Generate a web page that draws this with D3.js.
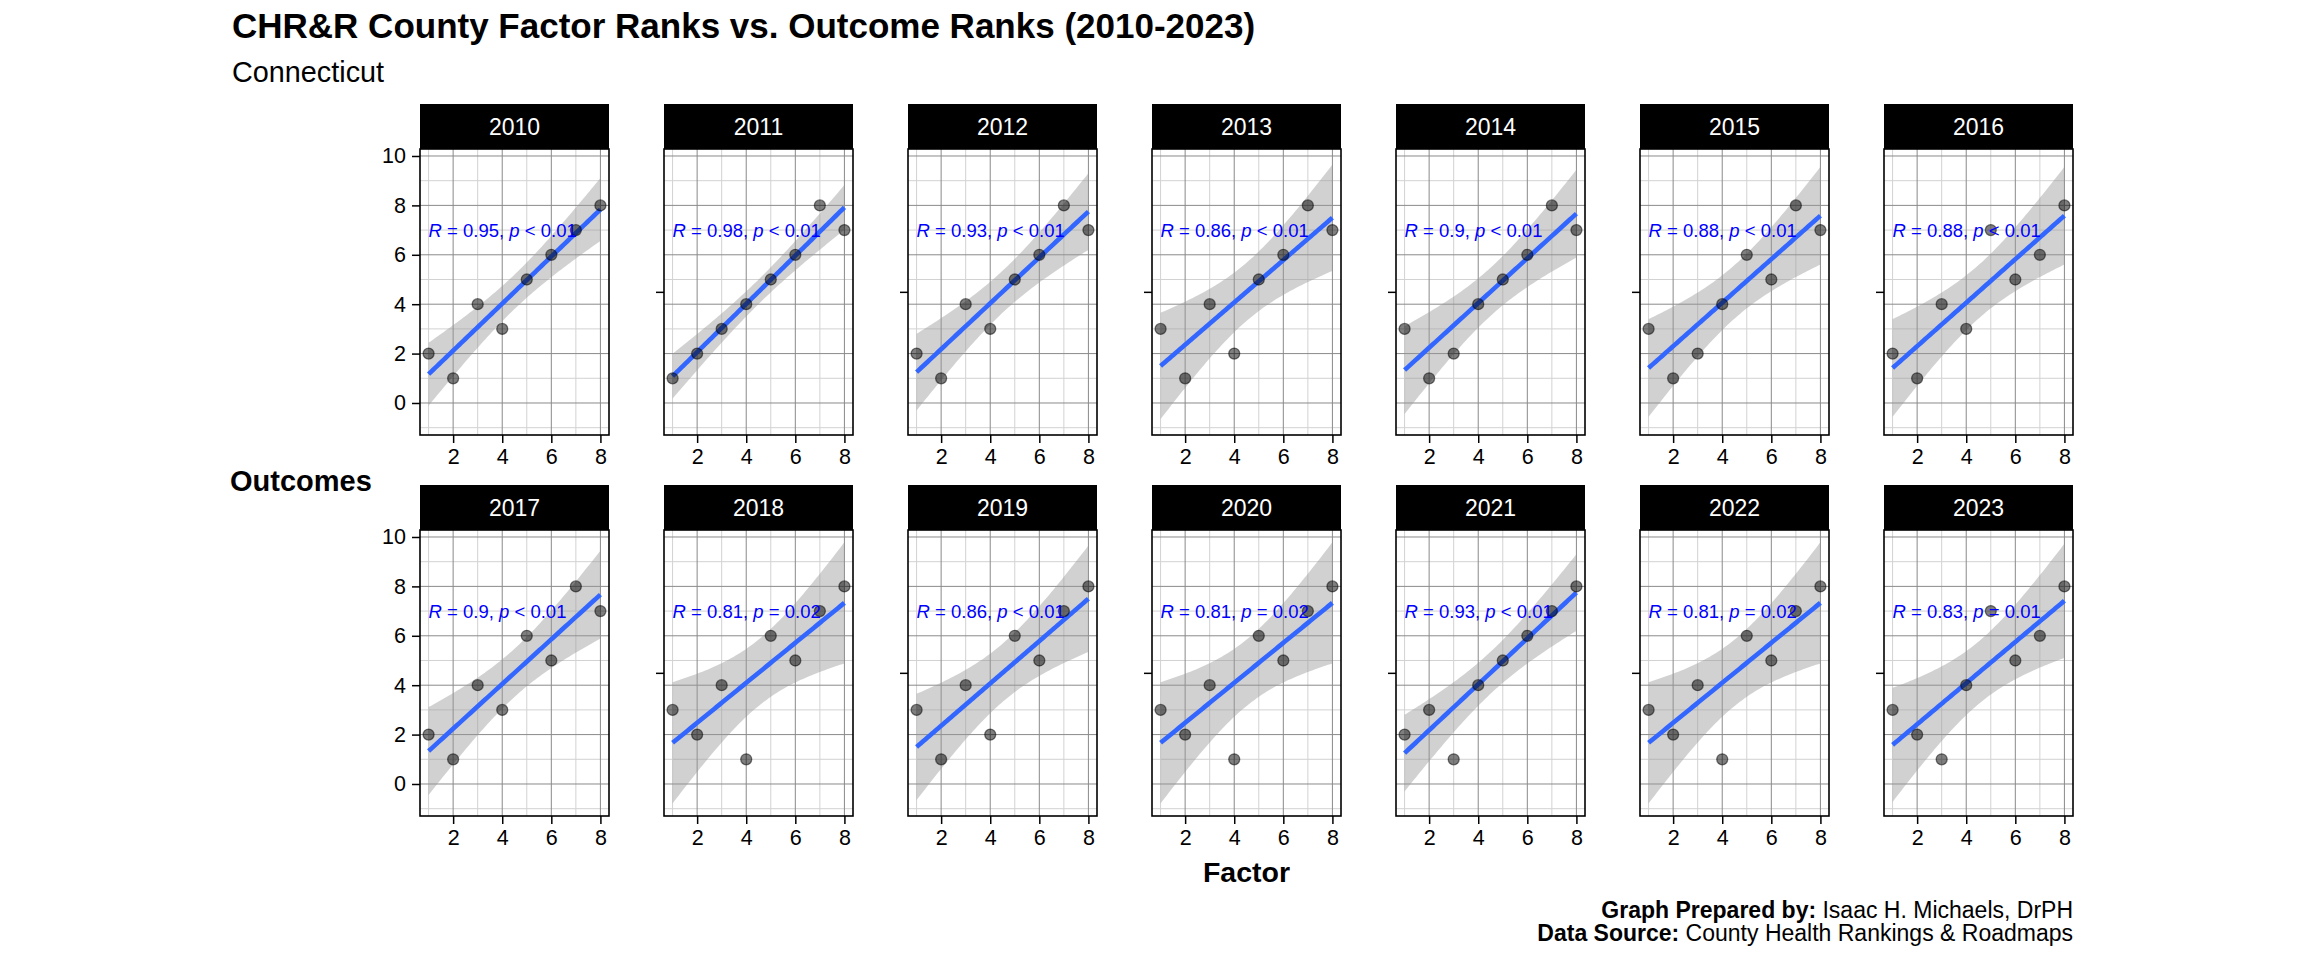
<!DOCTYPE html>
<html>
<head>
<meta charset="utf-8">
<script src="https://cdnjs.cloudflare.com/ajax/libs/d3/7.8.5/d3.min.js"></script>
<style>
  html, body { margin: 0; padding: 0; background: #fff; }
  svg { display: block; font-family: "Liberation Sans", Arial, sans-serif; }
</style>
</head>
<body>
<svg id="chart" width="2304" height="960"></svg>
<script>
(function() {

  'use strict';

  // ---- data ----
  var years = [2010, 2011, 2012, 2013, 2014, 2015, 2016,
               2017, 2018, 2019, 2020, 2021, 2022, 2023];

  var factorRanks = [1, 2, 3, 4, 5, 6, 7, 8];

  var outcomeRanks = [
    [2, 1, 4, 3, 5, 6, 7, 8], // 2010
    [1, 2, 3, 4, 5, 6, 8, 7], // 2011
    [2, 1, 4, 3, 5, 6, 8, 7], // 2012
    [3, 1, 4, 2, 5, 6, 8, 7], // 2013
    [3, 1, 2, 4, 5, 6, 8, 7], // 2014
    [3, 1, 2, 4, 6, 5, 8, 7], // 2015
    [2, 1, 4, 3, 7, 5, 6, 8], // 2016
    [2, 1, 4, 3, 6, 5, 8, 7], // 2017
    [3, 2, 4, 1, 6, 5, 7, 8], // 2018
    [3, 1, 4, 2, 6, 5, 7, 8], // 2019
    [3, 2, 4, 1, 6, 5, 7, 8], // 2020
    [2, 3, 1, 4, 5, 6, 7, 8], // 2021
    [3, 2, 4, 1, 6, 5, 7, 8], // 2022
    [3, 2, 1, 4, 7, 5, 6, 8]  // 2023
  ];

  var rLabels = ['0.95', '0.98', '0.93', '0.86', '0.9', '0.88', '0.88',
                 '0.9', '0.81', '0.86', '0.81', '0.93', '0.81', '0.83'];

  var pLabels = ['< 0.01', '< 0.01', '< 0.01', '< 0.01', '< 0.01', '< 0.01', '< 0.01',
                 '< 0.01', '= 0.02', '< 0.01', '= 0.02', '< 0.01', '= 0.02', '= 0.01'];

  var xTicks = [2, 4, 6, 8];
  var xMinor = [1, 3, 5, 7];
  var yTicks = [0, 2, 4, 6, 8, 10];
  var yMinor = [-1, 1, 3, 5, 7, 9];
  var innerYTicks = [4.5]; // lone tick left of the inner columns
  var labelPos = { x: 1, y: 7 };

  // ---- layout ----
  var FONT = '"Liberation Sans", Arial, sans-serif';
  var COLS = 7;
  var PANEL_LEFT = 420;
  var PANEL_STEP = 244;
  var PANEL_W = 189;
  var STRIP_TOP = 104;
  var STRIP_H = 45;
  var ROW_STEP = 381;
  var PLOT_H = 286;
  var T_CRIT = 2.446912; // t(0.975, df = 6)

  var svg = d3.select('#chart');

  var x = d3.scaleLinear().domain([0.65, 8.35]).range([0, PANEL_W]);
  var y = d3.scaleLinear().domain([-1.296, 10.283]).range([PLOT_H, 0]);

  // lm fit with 95% confidence band, like geom_smooth(method = 'lm')
  var fit = function(xs, ys) {
    var n = xs.length;
    var mx = d3.mean(xs), my = d3.mean(ys);
    var sxx = d3.sum(xs, function(v) { return (v - mx) * (v - mx); });
    var sxy = d3.sum(xs, function(v, i) { return (v - mx) * (ys[i] - my); });
    var slope = sxy / sxx;
    var icpt = my - slope * mx;
    var sse = d3.sum(xs, function(v, i) {
      var e = ys[i] - (icpt + slope * v);
      return e * e;
    });
    var s = Math.sqrt(sse / (n - 2));
    var lo = d3.min(xs), hi = d3.max(xs);
    var grid = d3.range(80).map(function(k) { return lo + (hi - lo) * k / 79; });
    return grid.map(function(gx) {
      var fy = icpt + slope * gx;
      var se = s * Math.sqrt(1 / n + (gx - mx) * (gx - mx) / sxx);
      return { x: gx, y: fy, lo: fy - T_CRIT * se, hi: fy + T_CRIT * se };
    });
  };

  var area = d3.area()
    .x(function(d) { return x(d.x); })
    .y0(function(d) { return y(d.lo); })
    .y1(function(d) { return y(d.hi); });

  var line = d3.line()
    .x(function(d) { return x(d.x); })
    .y(function(d) { return y(d.y); });

  svg.append('defs').append('clipPath')
    .attr('id', 'panel-clip')
    .append('rect')
    .attr('width', PANEL_W)
    .attr('height', PLOT_H);

  years.forEach(function(year, idx) {
    var col = idx % COLS;
    var row = Math.floor(idx / COLS);
    var left = PANEL_LEFT + col * PANEL_STEP;
    var stripTop = STRIP_TOP + row * ROW_STEP;
    var plotTop = stripTop + STRIP_H;
    var ys = outcomeRanks[idx];

    // strip
    svg.append('rect')
      .attr('x', left)
      .attr('y', stripTop)
      .attr('width', PANEL_W)
      .attr('height', STRIP_H)
      .attr('fill', '#000');

    svg.append('text')
      .attr('x', left + PANEL_W / 2)
      .attr('y', stripTop + 31)
      .attr('text-anchor', 'middle')
      .attr('fill', '#fff')
      .style('font-size', '23px')
      .text(year);

    var g = svg.append('g')
      .attr('transform', 'translate(' + left + ',' + plotTop + ')');

    var grid = g.append('g').attr('clip-path', 'url(#panel-clip)');

    grid.selectAll('line.minor-x')
      .data(xMinor).enter().append('line')
      .attr('x1', x).attr('x2', x)
      .attr('y1', 0).attr('y2', PLOT_H)
      .attr('stroke', '#d2d2d2').attr('stroke-width', 1);

    grid.selectAll('line.minor-y')
      .data(yMinor).enter().append('line')
      .attr('x1', 0).attr('x2', PANEL_W)
      .attr('y1', y).attr('y2', y)
      .attr('stroke', '#d2d2d2').attr('stroke-width', 1);

    grid.selectAll('line.major-x')
      .data(xTicks).enter().append('line')
      .attr('x1', x).attr('x2', x)
      .attr('y1', 0).attr('y2', PLOT_H)
      .attr('stroke', '#8a8a8a').attr('stroke-width', 1);

    grid.selectAll('line.major-y')
      .data(yTicks).enter().append('line')
      .attr('x1', 0).attr('x2', PANEL_W)
      .attr('y1', y).attr('y2', y)
      .attr('stroke', '#8a8a8a').attr('stroke-width', 1);

    var band = fit(factorRanks, ys);
    var layer = g.append('g').attr('clip-path', 'url(#panel-clip)');

    layer.append('path')
      .datum(band)
      .attr('d', area)
      .attr('fill', '#999999')
      .attr('fill-opacity', 0.45);

    layer.append('path')
      .datum(band)
      .attr('d', line)
      .attr('fill', 'none')
      .attr('stroke', '#3366FF')
      .attr('stroke-width', 4.6);

    layer.selectAll('circle')
      .data(factorRanks).enter().append('circle')
      .attr('cx', function(d) { return x(d); })
      .attr('cy', function(d, i) { return y(ys[i]); })
      .attr('r', 5.5)
      .attr('fill', '#000')
      .attr('fill-opacity', 0.5)
      .attr('stroke', '#000')
      .attr('stroke-opacity', 0.5)
      .attr('stroke-width', 1.3);

    var label = g.append('text')
      .attr('x', x(labelPos.x))
      .attr('y', y(labelPos.y))
      .attr('dy', '0.35em')
      .attr('fill', '#0000FF')
      .style('font-size', '18.5px')
      .style('white-space', 'pre');
    label.append('tspan').style('font-style', 'italic').text('R');
    label.append('tspan').text(' = ' + rLabels[idx] + ', ');
    label.append('tspan').style('font-style', 'italic').text('p');
    label.append('tspan').text(' ' + pLabels[idx]);

    // panel border
    g.append('rect')
      .attr('width', PANEL_W)
      .attr('height', PLOT_H)
      .attr('fill', 'none')
      .attr('stroke', '#000')
      .attr('stroke-width', 1.6);

    // axes
    var xAxis = g.append('g')
      .attr('transform', 'translate(0,' + PLOT_H + ')')
      .call(d3.axisBottom(x).tickValues(xTicks).tickSize(8).tickPadding(6)
        .tickFormat(d3.format('d')));

    var yAxis = g.append('g')
      .call(d3.axisLeft(y)
        .tickValues(col === 0 ? yTicks : innerYTicks)
        .tickSize(8).tickPadding(6)
        .tickFormat(col === 0 ? d3.format('d') : function() { return ''; }));

    [xAxis, yAxis].forEach(function(ax) {
      ax.select('.domain').remove();
      ax.selectAll('.tick line').attr('stroke', '#000').attr('stroke-width', 1.5);
      ax.selectAll('.tick text')
        .attr('fill', '#000')
        .style('font-family', FONT)
        .style('font-size', '21.5px');
    });
  });

  // ---- titles ----
  svg.append('text')
    .attr('x', 232)
    .attr('y', 38)
    .style('font-size', '35px')
    .style('font-weight', 'bold')
    .text('CHR&R County Factor Ranks vs. Outcome Ranks (2010-2023)');

  svg.append('text')
    .attr('x', 232)
    .attr('y', 82)
    .style('font-size', '28.8px')
    .text('Connecticut');

  svg.append('text')
    .attr('x', 230)
    .attr('y', 491)
    .style('font-size', '29px')
    .style('font-weight', 'bold')
    .text('Outcomes');

  var panelsRight = PANEL_LEFT + (COLS - 1) * PANEL_STEP + PANEL_W;

  svg.append('text')
    .attr('x', (PANEL_LEFT + panelsRight) / 2)
    .attr('y', 882)
    .attr('text-anchor', 'middle')
    .style('font-size', '28.5px')
    .style('font-weight', 'bold')
    .text('Factor');

  var caption = [
    ['Graph Prepared by:', ' Isaac H. Michaels, DrPH'],
    ['Data Source:', ' County Health Rankings & Roadmaps']
  ];

  caption.forEach(function(parts, i) {
    var t = svg.append('text')
      .attr('x', panelsRight)
      .attr('y', 918 + i * 23)
      .attr('text-anchor', 'end')
      .style('font-size', '23px')
      .style('white-space', 'pre');
    t.append('tspan').style('font-weight', 'bold').text(parts[0]);
    t.append('tspan').text(parts[1]);
  });

})();
</script>
</body>
</html>
